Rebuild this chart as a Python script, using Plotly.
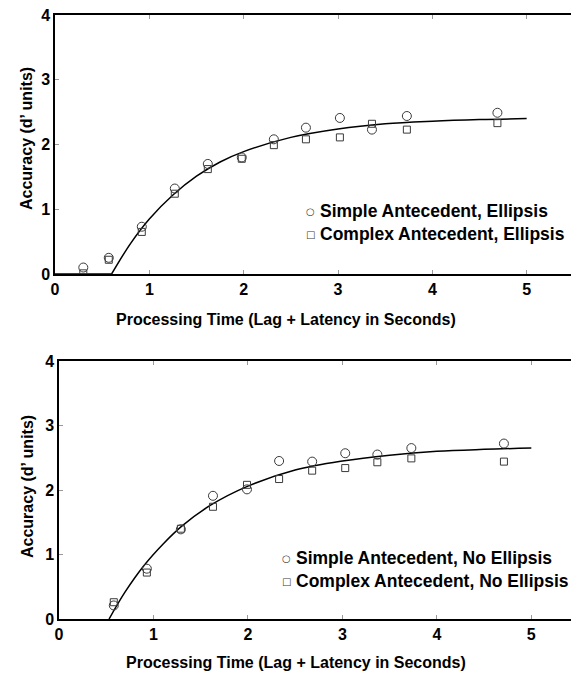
import plotly.graph_objects as go

# ---------------- data ----------------
time_top = [0.30, 0.57, 0.92, 1.27, 1.62, 1.98, 2.32, 2.66, 3.02, 3.36, 3.73, 4.69]
simple_ellipsis = [0.10, 0.25, 0.73, 1.32, 1.70, 1.80, 2.08, 2.26, 2.41, 2.23, 2.44, 2.49]
complex_ellipsis = [0.01, 0.22, 0.65, 1.24, 1.62, 1.78, 1.99, 2.08, 2.11, 2.32, 2.23, 2.33]

floor_time_top = [0.0, 0.60]
floor_top = [0.0, 0.0]
fit_time_top = [0.60, 0.80, 1.00, 1.25, 1.50, 1.75, 2.00, 2.50, 3.00, 3.50, 4.00, 4.50, 5.00]
fit_top = [0.0, 0.47, 0.85, 1.22, 1.51, 1.73, 1.89, 2.11, 2.24, 2.32, 2.36, 2.385, 2.40]

time_bottom = [0.58, 0.93, 1.29, 1.63, 1.99, 2.33, 2.68, 3.03, 3.37, 3.73, 4.71]
simple_no_ellipsis = [0.21, 0.78, 1.39, 1.91, 2.01, 2.45, 2.44, 2.57, 2.55, 2.65, 2.72]
complex_no_ellipsis = [0.26, 0.72, 1.40, 1.74, 2.08, 2.17, 2.30, 2.34, 2.43, 2.49, 2.44]

fit_time_bottom = [0.53, 0.70, 0.90, 1.10, 1.30, 1.60, 2.00, 2.50, 3.00, 3.50, 4.00, 4.50, 5.00]
fit_bottom = [0.0, 0.42, 0.83, 1.16, 1.44, 1.76, 2.06, 2.31, 2.45, 2.54, 2.60, 2.63, 2.65]

x_ticks = [0, 1, 2, 3, 4, 5]
y_ticks = [0, 1, 2, 3, 4]
x_title = "Processing Time (Lag + Latency in Seconds)"
y_title = "Accuracy (d\u2019 units)"
legend_top = ["Simple Antecedent, Ellipsis", "Complex Antecedent, Ellipsis"]
legend_bottom = ["Simple Antecedent, No Ellipsis", "Complex Antecedent, No Ellipsis"]

# ---------------- figure ----------------
W, H = 571, 673
FONT = "Liberation Sans, Arial, Helvetica, sans-serif"
MARK = "#3a3a3a"

fig = go.Figure()

def fit_traces(xs_floor, ys_floor, xs, ys, xa, ya):
    if xs_floor:
        fig.add_trace(go.Scatter(x=xs_floor, y=ys_floor, mode="lines", line=dict(color="black", width=1.5),
                                 showlegend=False, xaxis=xa, yaxis=ya, hoverinfo="skip"))
    fig.add_trace(go.Scatter(x=xs, y=ys, mode="lines", line=dict(color="black", width=1.5, shape="spline"),
                             showlegend=False, xaxis=xa, yaxis=ya, hoverinfo="skip"))

fit_traces(floor_time_top, floor_top, fit_time_top, fit_top, "x", "y")
fig.add_trace(go.Scatter(x=time_top, y=simple_ellipsis, mode="markers", name=legend_top[0],
                         marker=dict(symbol="circle-open", size=9, color=MARK, line=dict(width=1)),
                         xaxis="x", yaxis="y", showlegend=False))
fig.add_trace(go.Scatter(x=time_top, y=complex_ellipsis, mode="markers", name=legend_top[1],
                         marker=dict(symbol="square-open", size=7, color=MARK, line=dict(width=1)),
                         xaxis="x", yaxis="y", showlegend=False))

fit_traces(None, None, fit_time_bottom, fit_bottom, "x2", "y2")
fig.add_trace(go.Scatter(x=time_bottom, y=simple_no_ellipsis, mode="markers", name=legend_bottom[0],
                         marker=dict(symbol="circle-open", size=9, color=MARK, line=dict(width=1)),
                         xaxis="x2", yaxis="y2", showlegend=False))
fig.add_trace(go.Scatter(x=time_bottom, y=complex_no_ellipsis, mode="markers", name=legend_bottom[1],
                         marker=dict(symbol="square-open", size=7, color=MARK, line=dict(width=1)),
                         xaxis="x2", yaxis="y2", showlegend=False))

tickfont = dict(family=FONT, size=16, color="black", weight="bold")
titlefont = dict(family=FONT, size=16, color="black", weight="bold")

def xaxis(domain, rng, anchor):
    return dict(domain=domain, range=rng, anchor=anchor, tickvals=x_ticks, ticks="inside", ticklen=4,
                tickcolor="#999", tickwidth=1, showline=True, linecolor="black", linewidth=1.5,
                mirror="ticks", showgrid=False, zeroline=False, tickfont=tickfont, automargin=False)

def yaxis(domain, anchor):
    return dict(domain=domain, range=[0, 4], anchor=anchor, tickvals=y_ticks, ticks="inside", ticklen=4,
                tickcolor="#999", tickwidth=1, showline=True, linecolor="black", linewidth=1.5,
                showgrid=False, zeroline=False, tickfont=tickfont, automargin=False)

def right_ticks(overlay, anchor):
    return dict(overlaying=overlay, anchor=anchor, side="right", range=[0, 4], tickvals=y_ticks,
                ticks="inside", ticklen=4, tickcolor="#999", showticklabels=False, showline=False,
                showgrid=False, zeroline=False, automargin=False)

annotations = []

# axis titles (paper coordinates)
def add_titles(xt_x, xt_y, yt_x, yt_y):
    annotations.append(dict(text=x_title, xref="paper", yref="paper", x=xt_x / W, y=1 - xt_y / H,
                            xanchor="center", yanchor="middle", showarrow=False, font=titlefont))
    annotations.append(dict(text=y_title, xref="paper", yref="paper", x=yt_x / W, y=1 - yt_y / H,
                            xanchor="center", yanchor="middle", showarrow=False, font=titlefont,
                            textangle=-90))

add_titles(286, 319, 27, 139)
add_titles(296, 662, 27, 487)

# hand-placed legends (text + symbol glyphs)
legend_font = dict(family=FONT, size=17.5, color="black", weight="bold")
glyph_font = dict(family="DejaVu Sans", size=10, color=MARK)

def add_legend(labels, sym_x, text_x, row_ys):
    for label, glyph, ry in zip(labels, ["\u25CB", "\u25A1"], row_ys):
        annotations.append(dict(text=glyph, xref="paper", yref="paper", x=sym_x / W, y=1 - ry / H,
                                xanchor="center", yanchor="middle", showarrow=False, font=glyph_font))
        annotations.append(dict(text=label, xref="paper", yref="paper", x=text_x / W, y=1 - ry / H,
                                xanchor="left", yanchor="middle", showarrow=False, font=legend_font))

add_legend(legend_top, 310, 318, [211, 234])
add_legend(legend_bottom, 286, 294, [558, 581])

fig.update_layout(
    width=W, height=H,
    margin=dict(l=0, r=0, t=0, b=0),
    paper_bgcolor="white", plot_bgcolor="white",
    xaxis=xaxis([55 / W, 1.0], [0, 5.47], "y"),
    yaxis=yaxis([1 - 274 / H, 1 - 15 / H], "x"),
    xaxis2=xaxis([59 / W, 1.0], [0, 5.42], "y2"),
    yaxis2=yaxis([1 - 619 / H, 1 - 361 / H], "x2"),
    yaxis3=right_ticks("y", "x"),
    yaxis4=right_ticks("y2", "x2"),
    annotations=annotations,
    showlegend=False,
)

fig.write_html("out.html")
